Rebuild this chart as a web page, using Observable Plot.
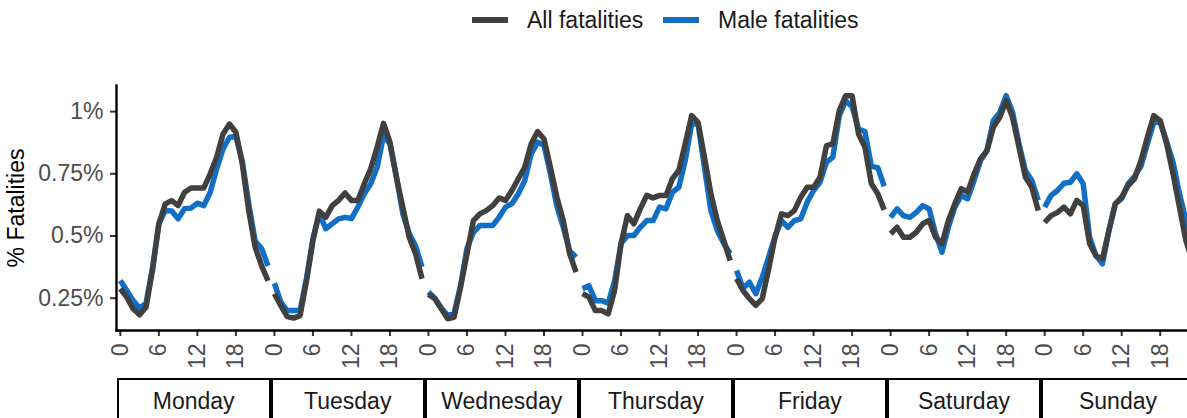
<!DOCTYPE html>
<html>
<head>
<meta charset="utf-8">
<script src="https://cdn.jsdelivr.net/npm/d3@7"></script>
<script src="https://cdn.jsdelivr.net/npm/@observablehq/plot@0.6"></script>
<style>
  html, body { margin: 0; padding: 0; background: #fff; }
  body { font-family: "Liberation Sans", Arial, Helvetica, sans-serif; }
  #wrap { position: relative; width: 1187px; height: 418px; overflow: hidden; }
  #legend { position: relative; height: 40px; }
  .key { position: absolute; top: 0; height: 40px; display: flex; align-items: center; font-size: 23px; color: #1a1a1a; }
  .swatch { width: 36px; height: 6px; margin-right: 19px; }
  #chart svg { display: block; }
  #strips { position: relative; height: 40px; }
  .strip { position: absolute; top: 0; height: 60px; box-sizing: border-box; border: 2.6px solid #000;
           font-size: 23px; color: #1a1a1a; text-align: center; line-height: 42px; }
</style>
</head>
<body>
<div id="wrap">
  <div id="legend"></div>
  <div id="chart"></div>
  <div id="strips"></div>
</div>
<script>
// Days of the week and hour-of-day ticks
const days = ["Monday", "Tuesday", "Wednesday", "Thursday", "Friday", "Saturday", "Sunday"];
const hourTicks = [0, 6, 12, 18];
const percentTicks = [0.25, 0.5, 0.75, 1];

// Share of fatalities (%) by hour 0–23, one row per day
const allFatalities = [
  [0.288, 0.254, 0.207, 0.183, 0.214, 0.361, 0.549, 0.629, 0.642, 0.622, 0.676, 0.693, 0.693, 0.693, 0.750, 0.817, 0.910, 0.950, 0.917, 0.790, 0.602, 0.455, 0.381, 0.320],
  [0.268, 0.220, 0.176, 0.170, 0.180, 0.320, 0.480, 0.600, 0.575, 0.622, 0.643, 0.673, 0.643, 0.643, 0.710, 0.770, 0.857, 0.953, 0.877, 0.736, 0.616, 0.495, 0.428, 0.328],
  [0.265, 0.248, 0.207, 0.167, 0.174, 0.294, 0.428, 0.562, 0.589, 0.602, 0.622, 0.653, 0.643, 0.683, 0.730, 0.776, 0.870, 0.920, 0.890, 0.776, 0.656, 0.562, 0.428, 0.355],
  [0.268, 0.254, 0.200, 0.200, 0.187, 0.281, 0.469, 0.582, 0.549, 0.609, 0.663, 0.653, 0.663, 0.663, 0.730, 0.763, 0.870, 0.984, 0.957, 0.817, 0.670, 0.562, 0.482, 0.401],
  [0.328, 0.281, 0.248, 0.221, 0.248, 0.368, 0.495, 0.589, 0.582, 0.602, 0.656, 0.696, 0.696, 0.736, 0.863, 0.870, 1.004, 1.064, 1.064, 0.910, 0.857, 0.710, 0.670, 0.605],
  [0.509, 0.535, 0.495, 0.495, 0.515, 0.549, 0.562, 0.495, 0.469, 0.562, 0.629, 0.690, 0.676, 0.750, 0.810, 0.843, 0.937, 0.977, 1.044, 0.977, 0.857, 0.736, 0.696, 0.602],
  [0.555, 0.582, 0.595, 0.616, 0.589, 0.643, 0.622, 0.469, 0.420, 0.408, 0.522, 0.629, 0.656, 0.703, 0.730, 0.803, 0.897, 0.984, 0.964, 0.870, 0.750, 0.616, 0.482, 0.400]
];
const maleFatalities = [
  [0.321, 0.281, 0.240, 0.210, 0.230, 0.370, 0.550, 0.602, 0.600, 0.569, 0.610, 0.612, 0.632, 0.622, 0.676, 0.770, 0.850, 0.897, 0.900, 0.800, 0.630, 0.480, 0.450, 0.380],
  [0.310, 0.234, 0.200, 0.200, 0.200, 0.330, 0.490, 0.590, 0.529, 0.549, 0.569, 0.575, 0.570, 0.616, 0.670, 0.710, 0.776, 0.904, 0.870, 0.740, 0.590, 0.510, 0.460, 0.375],
  [0.275, 0.250, 0.210, 0.180, 0.190, 0.300, 0.450, 0.515, 0.542, 0.542, 0.542, 0.575, 0.616, 0.630, 0.670, 0.723, 0.830, 0.877, 0.865, 0.750, 0.620, 0.535, 0.440, 0.415],
  [0.288, 0.300, 0.240, 0.240, 0.230, 0.320, 0.470, 0.502, 0.502, 0.535, 0.562, 0.562, 0.616, 0.609, 0.676, 0.696, 0.803, 0.950, 0.950, 0.776, 0.602, 0.522, 0.470, 0.430],
  [0.361, 0.290, 0.314, 0.268, 0.334, 0.415, 0.500, 0.562, 0.535, 0.562, 0.569, 0.636, 0.683, 0.716, 0.796, 0.817, 0.984, 1.044, 1.020, 0.930, 0.920, 0.780, 0.775, 0.700],
  [0.575, 0.609, 0.582, 0.575, 0.595, 0.622, 0.609, 0.509, 0.435, 0.535, 0.616, 0.663, 0.650, 0.723, 0.803, 0.843, 0.964, 0.997, 1.064, 0.997, 0.870, 0.763, 0.723, 0.643],
  [0.616, 0.663, 0.683, 0.712, 0.716, 0.750, 0.710, 0.495, 0.420, 0.388, 0.520, 0.629, 0.650, 0.710, 0.740, 0.780, 0.870, 0.957, 0.957, 0.880, 0.796, 0.670, 0.562, 0.480]
];

const seriesNames = ["All fatalities", "Male fatalities"];
const seriesColors = ["#404040", "#136fc6"];

// Long table: one row per series, day and hour; x is the hour of the week
const rows = [];
[allFatalities, maleFatalities].forEach((series, s) => {
  series.forEach((dayValues, d) => {
    dayValues.forEach((value, h) => {
      rows.push({series: seriesNames[s], day: days[d], hour: h, week: d * 24 + h, value});
    });
  });
});

const weekTicks = days.flatMap((_, d) => hourTicks.map(h => d * 24 + h));

const chart = Plot.plot({
  width: 1187,
  height: 338,
  marginTop: 45,
  marginBottom: 48,
  marginLeft: 116,
  marginRight: 0,
  style: {fontFamily: "'Liberation Sans', Arial, Helvetica, sans-serif", fontSize: "23px", background: "#fff"},
  x: {domain: [-0.6, 166.25]},
  y: {domain: [0.12, 1.105]},
  marks: [
    Plot.axisY(percentTicks, {
      tickSize: 6, tickPadding: 7, strokeWidth: 2, stroke: "#333", fill: "#4d4d4d",
      tickFormat: d => d + "%", label: null
    }),
    // axis title only, drawn in black
    Plot.axisY([], {
      tickSize: 0, fill: "#000",
      label: "% Fatalities", labelAnchor: "center", labelArrow: "none", labelOffset: 109
    }),
    Plot.axisX(weekTicks, {
      tickSize: 6, tickPadding: 7, strokeWidth: 2, stroke: "#333", fill: "#4d4d4d",
      tickRotate: -90, tickFormat: d => String(d % 24), label: null
    }),
    Plot.frame({anchor: "left", stroke: "#000", strokeWidth: 2.4}),
    Plot.frame({anchor: "bottom", stroke: "#000", strokeWidth: 2.4}),
    Plot.lineY(rows.filter(r => r.series === seriesNames[1]), {
      x: "week", y: "value", z: "day", stroke: seriesColors[1], strokeWidth: 5.5,
      strokeLinecap: "butt", strokeLinejoin: "round", clip: true
    }),
    Plot.lineY(rows.filter(r => r.series === seriesNames[0]), {
      x: "week", y: "value", z: "day", stroke: seriesColors[0], strokeWidth: 5.5,
      strokeLinecap: "butt", strokeLinejoin: "round", clip: true
    })
  ]
});
document.getElementById("chart").append(chart);

// Legend above the panel
const legend = document.getElementById("legend");
const legendLefts = [472, 663];
seriesNames.forEach((name, i) => {
  const key = document.createElement("div");
  key.className = "key";
  key.style.left = legendLefts[i] + "px";
  const sw = document.createElement("div");
  sw.className = "swatch";
  sw.style.background = seriesColors[i];
  const label = document.createElement("span");
  label.textContent = name;
  key.append(sw, label);
  legend.append(key);
});

// Day strips under the hour axis, each spanning its 24 hours
const x = chart.scale("x");
const strips = document.getElementById("strips");
days.forEach((day, d) => {
  const left = x.apply(d * 24 - 0.5);
  const right = x.apply(d * 24 + 23.5);
  const box = document.createElement("div");
  box.className = "strip";
  box.style.left = left + "px";
  box.style.width = (right - left) + "px";
  box.textContent = day;
  strips.append(box);
});
</script>
</body>
</html>
